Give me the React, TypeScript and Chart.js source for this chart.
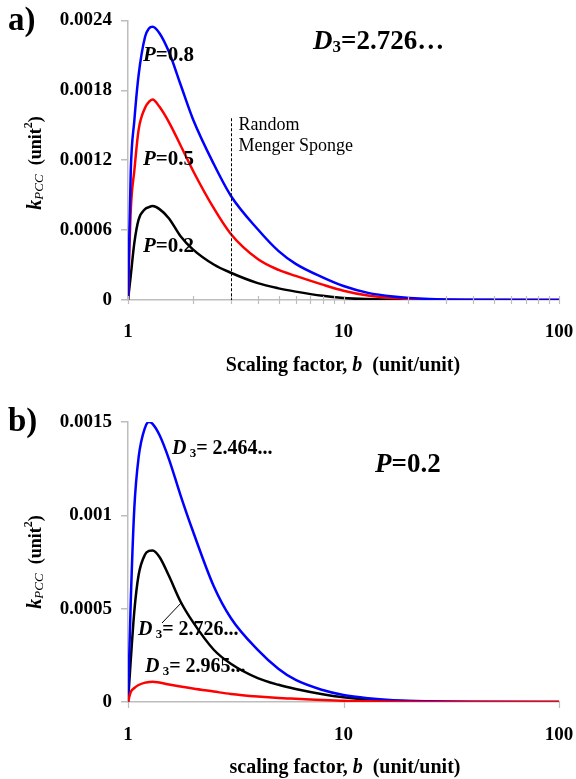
import React, { useEffect, useRef } from 'react';
import { Chart, registerables } from 'chart.js';

Chart.register(...registerables);

const SERIF = "'Liberation Serif', 'Times New Roman', Times, serif";
const AXIS = '#bdbdbd';

// scaling factor b (shared sample points)
const bValues = [1, 1.03, 1.07, 1.12, 1.2, 1.25, 1.3, 1.4, 1.55, 1.75, 2, 2.5, 3, 4, 5, 6, 8, 10, 13, 17, 25, 40, 100];

// Panel a: D3 = 2.726..., k_PCC for P = 0.8, 0.5, 0.2
const kP08 = [0, 0.00111, 0.00154, 0.00193, 0.00226, 0.00233, 0.002345, 0.00229, 0.002128, 0.001854, 0.001554, 0.001167, 0.000895, 0.000607, 0.000419, 0.00031, 0.000194, 0.00012, 0.000061, 0.00003, 0.0000085, 0.000002, 0];
const kP05 = [0, 0.00077, 0.00111, 0.00146, 0.00165, 0.0017, 0.00172, 0.001658, 0.001525, 0.001331, 0.001112, 0.000788, 0.000567, 0.000352, 0.000258, 0.000207, 0.000132, 0.00008, 0.000038, 0.0000167, 0.0000035, 0.0000005, 0];
const kP02 = [0, 0.00021, 0.00049, 0.00069, 0.00078, 0.000797, 0.000806, 0.00078, 0.0007, 0.00055, 0.000435, 0.000305, 0.000234, 0.000145, 0.0001, 0.000072, 0.000036, 0.000018, 0.000008, 0.000003, 0.0000006, 0, 0];

// Panel b: P = 0.2, k_PCC for D3 = 2.464..., 2.726..., 2.965...
const kD2464 = [0, 0.00054, 0.00104, 0.00131, 0.00147, 0.0015, 0.00149, 0.00143, 0.0013, 0.00111, 0.000916, 0.00062, 0.00045, 0.000279, 0.000177, 0.000118, 0.000064, 0.000037, 0.00002, 0.00001, 0.000004, 0.000001, 0];
const kD2726 = [0, 0.000225, 0.000487, 0.00068, 0.00079, 0.000809, 0.000812, 0.000777, 0.000675, 0.00054, 0.000429, 0.00028, 0.000205, 0.000128, 0.000092, 0.00007, 0.000042, 0.000026, 0.000014, 0.000007, 0.000002, 0.0000005, 0];
const kD2965 = [0, 0.000054, 0.000075, 0.000091, 0.000104, 0.000107, 0.000109, 0.000104, 0.000094, 0.000083, 0.000072, 0.000056, 0.000043, 0.000029, 0.000021, 0.000017, 0.000011, 0.0000064, 0.0000035, 0.0000018, 0.0000006, 0.0000001, 0];

const xMajorTicks = [1, 10, 100];
const xMajorLabels = ['1', '10', '100'];
const xMinorTicksA = [2, 3, 4, 5, 6, 7, 8, 9, 20, 30, 40, 50, 60, 70, 80, 90];
const yTicksA = [0, 0.0006, 0.0012, 0.0018, 0.0024];
const yTickLabelsA = ['0', '0.0006', '0.0012', '0.0018', '0.0024'];
const yTicksB = [0, 0.0005, 0.001, 0.0015];
const yTickLabelsB = ['0', '0.0005', '0.001', '0.0015'];
const spongeB = 3;
const spongeTop = 0.00156;

type Piece = { t: string; f: string; dy?: number };
const B = (s: number) => `bold ${s}px ${SERIF}`;
const BI = (s: number) => `italic bold ${s}px ${SERIF}`;
const I = (s: number) => `italic ${s}px ${SERIF}`;
const R = (s: number) => `${s}px ${SERIF}`;

function drawRich(ctx: CanvasRenderingContext2D, x: number, y: number, pieces: Piece[], align: 'left' | 'center' = 'left') {
  let w = 0;
  for (const p of pieces) {
    ctx.font = p.f;
    w += ctx.measureText(p.t).width;
  }
  let cx = align === 'center' ? x - w / 2 : x;
  ctx.textBaseline = 'middle';
  ctx.textAlign = 'left';
  ctx.fillStyle = '#000';
  for (const p of pieces) {
    ctx.font = p.f;
    ctx.fillText(p.t, cx, y + (p.dy || 0));
    cx += ctx.measureText(p.t).width;
  }
}

const toPts = (ys: number[]) => bValues.map((b, i) => ({ x: b, y: ys[i] }));

const line = (ys: number[], color: string) => ({
  data: toPts(ys),
  borderColor: color,
  backgroundColor: color,
  borderWidth: 2.5,
  pointRadius: 0,
  fill: false,
  cubicInterpolationMode: 'monotone' as const,
});

function yTitle(ctx: CanvasRenderingContext2D, x: number, y: number) {
  ctx.save();
  ctx.translate(x, y);
  ctx.rotate(-Math.PI / 2);
  drawRich(ctx, 0, 0, [
    { t: 'k', f: BI(20) },
    { t: 'PCC', f: I(13), dy: 4 },
    { t: '  (unit', f: B(18) },
    { t: '2', f: B(12), dy: -7 },
    { t: ')', f: B(18) },
  ], 'center');
  ctx.restore();
}

function baseOptions(yTicks: number[], yLabels: string[], yMax: number, xHeight: number, padTop: number, xTickGap: number) {
  return {
    animation: false as const,
    responsive: false,
    events: [] as any[],
    layout: { padding: { left: 0, right: 17, top: padTop, bottom: 0 } },
    plugins: { legend: { display: false }, tooltip: { enabled: false }, title: { display: false } },
    scales: {
      x: {
        type: 'logarithmic' as const,
        min: 1,
        max: 100,
        afterBuildTicks: (s: any) => { s.ticks = xMajorTicks.map((v) => ({ value: v, major: true })); },
        afterFit: (s: any) => { s.height = xHeight; },
        ticks: {
          autoSkip: false,
          maxRotation: 0,
          minRotation: 0,
          padding: 2,
          color: '#000',
          font: { family: SERIF, size: 19, weight: 'bold' as const },
          callback: (_v: any, i: number) => xMajorLabels[i],
        },
        grid: { display: false, drawTicks: true, tickLength: xTickGap },
        border: { display: true, color: AXIS, width: 1.5 },
      },
      y: {
        type: 'linear' as const,
        min: 0,
        max: yMax,
        afterBuildTicks: (s: any) => { s.ticks = yTicks.map((v) => ({ value: v })); },
        afterFit: (s: any) => { s.width = 128; },
        ticks: {
          padding: 9,
          color: '#000',
          font: { family: SERIF, size: 19, weight: 'bold' as const },
          callback: (_v: any, i: number) => yLabels[i],
        },
        grid: { drawOnChartArea: false, drawTicks: true, tickLength: 7, color: AXIS, lineWidth: 1.5 },
        border: { display: true, color: AXIS, width: 1.5 },
      },
    },
  };
}

function buildA(): any {
  const decor = {
    id: 'decorA',
    afterDatasetsDraw(chart: any) {
      const ctx: CanvasRenderingContext2D = chart.ctx;
      const xs = chart.scales.x;
      const ys = chart.scales.y;
      const bottom = chart.chartArea.bottom;
      ctx.save();
      // axis tick marks crossing the x axis
      ctx.strokeStyle = AXIS;
      ctx.lineWidth = 1.2;
      for (const v of [...xMajorTicks, ...xMinorTicksA]) {
        const px = Math.round(xs.getPixelForValue(v)) + 0.5;
        ctx.beginPath();
        ctx.moveTo(px, bottom - 4);
        ctx.lineTo(px, bottom + 4);
        ctx.stroke();
      }
      // Random Menger Sponge marker
      const sx = Math.round(xs.getPixelForValue(spongeB)) + 0.5;
      ctx.strokeStyle = '#000';
      ctx.lineWidth = 1;
      ctx.setLineDash([3, 2]);
      ctx.beginPath();
      ctx.moveTo(sx, ys.getPixelForValue(spongeTop));
      ctx.lineTo(sx, bottom);
      ctx.stroke();
      ctx.setLineDash([]);
      drawRich(ctx, sx + 7, 125, [{ t: 'Random', f: R(18) }]);
      drawRich(ctx, sx + 7, 146, [{ t: 'Menger Sponge', f: R(18) }]);
      // series labels
      drawRich(ctx, 143, 56, [{ t: 'P', f: BI(21) }, { t: '=0.8', f: B(21) }]);
      drawRich(ctx, 143, 160, [{ t: 'P', f: BI(21) }, { t: '=0.5', f: B(21) }]);
      drawRich(ctx, 143, 247, [{ t: 'P', f: BI(21) }, { t: '=0.2', f: B(21) }]);
      // panel label and heading
      drawRich(ctx, 8, 21, [{ t: 'a)', f: B(33) }]);
      drawRich(ctx, 313, 42, [{ t: 'D', f: BI(27) }, { t: '3', f: B(17), dy: 6 }, { t: '=2.726…', f: B(27) }]);
      // axis titles
      yTitle(ctx, 36, 163);
      drawRich(ctx, 343, 366, [
        { t: 'Scaling factor, ', f: B(20) },
        { t: 'b', f: BI(20) },
        { t: '  (unit/unit)', f: B(20) },
      ], 'center');
      ctx.restore();
    },
  };
  return {
    type: 'line',
    data: {
      datasets: [line(kP08, '#0000ff'), line(kP05, '#ff0000'), line(kP02, '#000000')],
    },
    options: baseOptions(yTicksA, yTickLabelsA, 0.0024, 90, 20, 19),
    plugins: [decor],
  };
}

function buildB(): any {
  const decor = {
    id: 'decorB',
    afterDatasetsDraw(chart: any) {
      const ctx: CanvasRenderingContext2D = chart.ctx;
      const xs = chart.scales.x;
      const bottom = chart.chartArea.bottom;
      ctx.save();
      ctx.strokeStyle = AXIS;
      ctx.lineWidth = 1.2;
      for (const v of xMajorTicks) {
        const px = Math.round(xs.getPixelForValue(v)) + 0.5;
        ctx.beginPath();
        ctx.moveTo(px, bottom);
        ctx.lineTo(px, bottom + 6);
        ctx.stroke();
      }
      // labels
      drawRich(ctx, 172, 59, [
        { t: 'D', f: BI(20) }, { t: ' 3', f: B(13), dy: 5 }, { t: '= 2.464...', f: B(20) },
      ]);
      drawRich(ctx, 138, 240, [
        { t: 'D', f: BI(20) }, { t: ' 3', f: B(13), dy: 5 }, { t: '= 2.726...', f: B(20) },
      ]);
      drawRich(ctx, 145, 277, [
        { t: 'D', f: BI(20) }, { t: ' 3', f: B(13), dy: 5 }, { t: '= 2.965...', f: B(20) },
      ]);
      ctx.strokeStyle = '#000';
      ctx.lineWidth = 1;
      ctx.beginPath();
      ctx.moveTo(162, 233);
      ctx.lineTo(182, 212);
      ctx.stroke();
      drawRich(ctx, 8, 32, [{ t: 'b)', f: B(33) }]);
      drawRich(ctx, 375, 75, [{ t: 'P', f: BI(27) }, { t: '=0.2', f: B(27) }]);
      yTitle(ctx, 36, 172);
      drawRich(ctx, 345, 378, [
        { t: 'scaling factor, ', f: B(20) },
        { t: 'b', f: BI(20) },
        { t: '  (unit/unit)', f: B(20) },
      ], 'center');
      ctx.restore();
    },
  };
  return {
    type: 'line',
    data: {
      datasets: [line(kD2965, '#ff0000'), line(kD2464, '#0000ff'), line(kD2726, '#000000')],
    },
    options: baseOptions(yTicksB, yTickLabelsB, 0.0015, 77, 32, 20),
    plugins: [decor],
  };
}

function Panel({ build, height }: { build: () => any; height: number }) {
  const ref = useRef<HTMLCanvasElement>(null);
  useEffect(() => {
    const chart = new Chart(ref.current as HTMLCanvasElement, build());
    return () => chart.destroy();
  }, []);
  return <canvas ref={ref} width={576} height={height} style={{ display: 'block', width: 576, height }} />;
}

export default function App() {
  return (
    <div style={{ position: 'absolute', left: 0, top: 0, width: 576, height: 779, background: '#fff' }}>
      <Panel build={buildA} height={390} />
      <Panel build={buildB} height={389} />
    </div>
  );
}
